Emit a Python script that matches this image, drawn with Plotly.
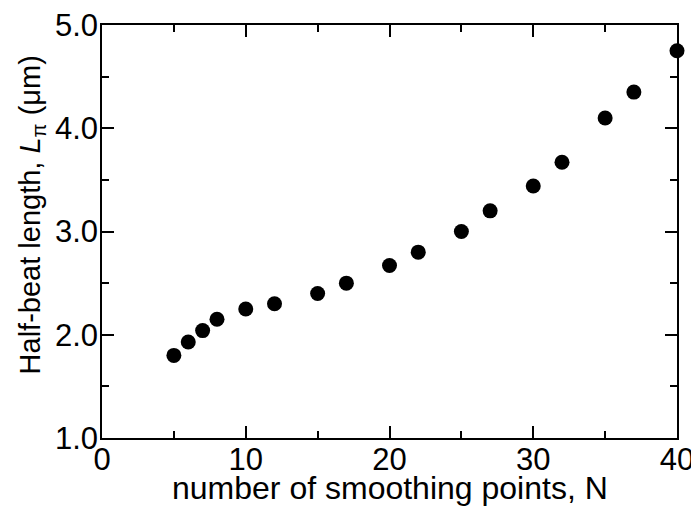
import plotly.graph_objects as go

n_points = [5, 6, 7, 8, 10, 12, 15, 17, 20, 22, 25, 27, 30, 32, 35, 37, 40]
half_beat = [1.80, 1.93, 2.04, 2.15, 2.25, 2.30, 2.40, 2.50, 2.67, 2.80, 3.00, 3.20, 3.44, 3.67, 4.10, 4.35, 4.75]

x_ticks = [0, 10, 20, 30, 40]
y_ticks = [1.0, 2.0, 3.0, 4.0, 5.0]
y_tick_labels = ["1.0", "2.0", "3.0", "4.0", "5.0"]

x_title = "number of smoothing points, N"
y_title = "Half-beat length, <i>L</i><sub>π</sub> (μm)"

font_family = "Liberation Sans, Arial, sans-serif"

fig = go.Figure()
fig.add_trace(go.Scatter(
    x=n_points, y=half_beat, mode="markers",
    marker=dict(color="black", size=15, line=dict(width=0)),
    cliponaxis=False, showlegend=False,
))

axis_common = dict(
    showgrid=False, zeroline=False, showline=True, linecolor="black", linewidth=1.5,
    mirror="allticks", ticks="inside", ticklen=12, tickwidth=1.5, tickcolor="black",
    tickfont=dict(family=font_family, size=31, color="black"), automargin=False,
    ticklabeloverflow="allow",
)

fig.update_xaxes(
    range=[0, 40], tickvals=x_ticks, ticktext=[str(v) for v in x_ticks],
    minor=dict(ticks="inside", ticklen=7, tickwidth=1.5, tickcolor="black", dtick=5, tick0=0),
    ticklabelstandoff=-7,
    **axis_common,
)
fig.update_yaxes(
    range=[1.0, 5.0], tickvals=y_ticks, ticktext=y_tick_labels,
    minor=dict(ticks="inside", ticklen=7, tickwidth=1.5, tickcolor="black", dtick=0.5, tick0=1.0),
    ticklabelstandoff=-4,
    **axis_common,
)

fig.add_annotation(
    text=x_title, xref="paper", yref="paper", x=0.5, y=-50 / 413,
    xanchor="center", yanchor="middle", showarrow=False,
    font=dict(family=font_family, size=32, color="black"),
)
fig.add_annotation(
    text=y_title, xref="paper", yref="paper", x=-70 / 575, y=0.539,
    xanchor="center", yanchor="middle", showarrow=False, textangle=-90,
    font=dict(family=font_family, size=29, color="black"),
)

# page body adds an 8px margin; size the figure so the plot area lands where the reference has it
fig.update_layout(
    width=691, height=514,
    margin=dict(l=94, r=22, t=17, b=84),
    paper_bgcolor="white", plot_bgcolor="white",
)

fig.write_html("out.html")
